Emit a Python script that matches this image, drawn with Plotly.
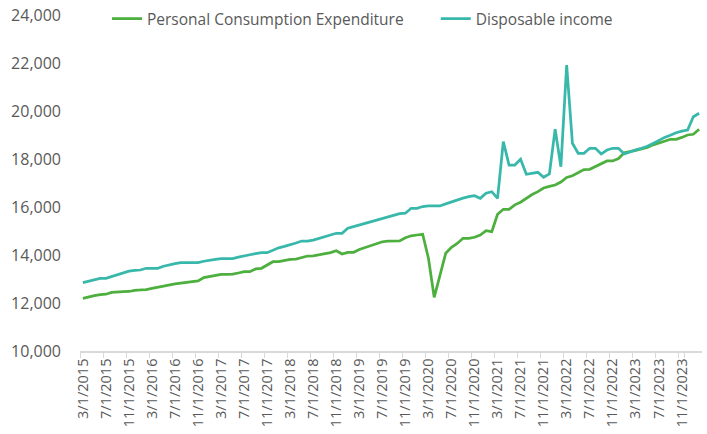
import plotly.graph_objects as go

# Monthly categories 3/1/2015 .. 2/1/2024
months = []
y, m = 2015, 3
for _ in range(108):
    months.append(f"{m}/1/{y}")
    m += 1
    if m > 12:
        m = 1
        y += 1

pce = [12196, 12260, 12310, 12345, 12365, 12440, 12471, 12471, 12480, 12530, 12542, 12560,
       12610, 12660, 12720, 12770, 12800, 12830, 12860, 12890, 12917, 13060, 13110, 13160,
       13196, 13196, 13200, 13250, 13304, 13304, 13420, 13446, 13580, 13720, 13721, 13770,
       13820, 13833, 13900, 13958, 13960, 14000, 14040, 14100, 14179, 14040, 14110, 14113,
       14230, 14310, 14380, 14460, 14550, 14583, 14583, 14590, 14720, 14800, 14833, 14863,
       13863, 12238, 13150, 14071, 14321, 14480, 14696, 14696, 14740, 14833, 15013, 14971,
       15700, 15904, 15904, 16090, 16200, 16360, 16520, 16640, 16790, 16860, 16917, 17040,
       17230, 17300, 17420, 17560, 17571, 17690, 17800, 17917, 17917, 18020, 18263, 18300,
       18360, 18420, 18480, 18590, 18650, 18740, 18821, 18821, 18900, 19000, 19029, 19238]

dpi = [12846, 12900, 12960, 13029, 13029, 13100, 13180, 13260, 13330, 13360, 13375, 13446,
       13446, 13446, 13530, 13600, 13640, 13680, 13680, 13680, 13680, 13740, 13792, 13820,
       13846, 13846, 13850, 13910, 13971, 14010, 14060, 14096, 14096, 14200, 14300, 14360,
       14420, 14500, 14583, 14583, 14620, 14690, 14760, 14830, 14904, 14904, 15113, 15180,
       15250, 15330, 15390, 15450, 15530, 15590, 15660, 15720, 15740, 15946, 15946, 16020,
       16042, 16042, 16042, 16130, 16221, 16290, 16370, 16430, 16470, 16363, 16571, 16638,
       16363, 18721, 17750, 17750, 17988, 17363, 17420, 17446, 17238, 17375, 19238, 17679,
       21917, 18654, 18238, 18238, 18446, 18446, 18208, 18375, 18446, 18446, 18208, 18300,
       18380, 18450, 18530, 18650, 18780, 18900, 18990, 19096, 19160, 19208, 19763, 19904]

tick_labels = months[::4]
y_ticks = [10000, 12000, 14000, 16000, 18000, 20000, 22000, 24000]

GREEN = "#4DAF3E"
TEAL = "#38B8AA"
GRAY = "#595959"
FONT = "Open Sans"

fig = go.Figure()
fig.add_trace(go.Scatter(x=months, y=pce, mode="lines", name="Personal Consumption Expenditure",
                         line=dict(color=GREEN, width=2.75), legend="legend"))
fig.add_trace(go.Scatter(x=months, y=dpi, mode="lines", name="Disposable income",
                         line=dict(color=TEAL, width=2.75), legend="legend2"))

leg_common = dict(orientation="h", yanchor="middle", xanchor="left",
                  font=dict(size=15.5, color=GRAY), bgcolor="rgba(0,0,0,0)")

fig.update_layout(
    width=707, height=434,
    margin=dict(l=80, r=5, t=15, b=83, autoexpand=False),
    paper_bgcolor="white", plot_bgcolor="white",
    font=dict(family=FONT, color=GRAY),
    showlegend=True,
    legend=dict(x=0.0434, y=0.988, **leg_common),
    legend2=dict(x=0.572, y=0.988, **leg_common),
    xaxis=dict(type="category", categoryorder="array", categoryarray=months,
               range=[-0.5, 107.5], tickmode="array", tickvals=tick_labels, ticktext=tick_labels,
               tickangle=-90, tickfont=dict(size=14.5, color=GRAY),
               showline=True, linecolor="#D9D9D9", linewidth=1.5,
               ticks="outside", ticklen=5, tickcolor="#D9D9D9", tickson="boundaries",
               showgrid=False, zeroline=False, automargin=False,
               ticklabeloverflow="allow"),
    yaxis=dict(range=[10000, 24000], tickmode="array", tickvals=y_ticks,
               tickformat=",", tickfont=dict(size=16, color=GRAY),
               showline=False, showgrid=False, zeroline=False, ticks="",
               ticklabelstandoff=18, automargin=False, ticklabeloverflow="allow"),
)

fig.write_html("out.html",
               config={"displayModeBar": False},
               post_script="document.body.style.margin='0';document.body.style.overflow='hidden';")
